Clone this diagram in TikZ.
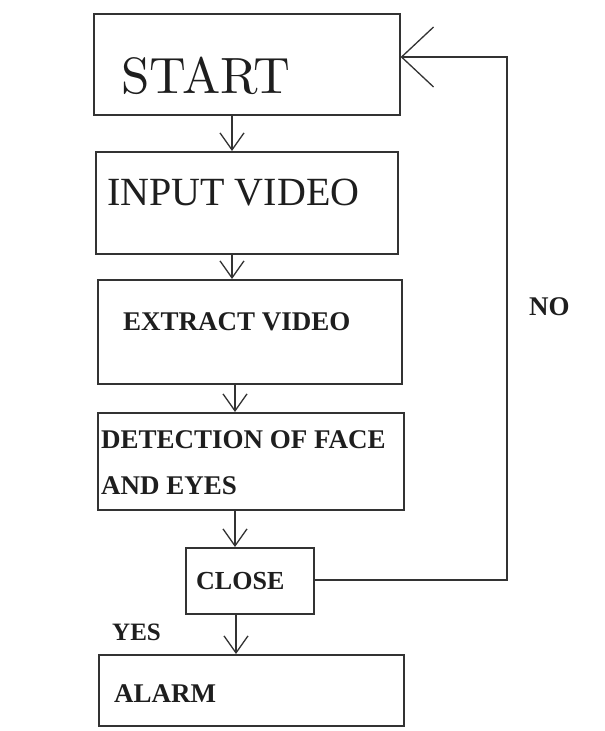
\documentclass[tikz,border=0pt]{standalone}
\usepackage{fontspec}
\newfontfamily\tnr{Liberation Serif}
\newfontfamily\lmten{lmroman10-regular.otf}
\usetikzlibrary{arrows.meta}
\definecolor{ln}{HTML}{333333}
\definecolor{tx}{HTML}{1E1E1E}
\begin{document}
\begin{tikzpicture}[x=1pt,y=-1pt,
  box/.style={draw=ln,line width=1.6pt,rectangle,inner sep=0pt,anchor=north west},
  lbl/.style={anchor=base west,inner sep=0pt,text=tx},
  bl/.style={lbl,font=\tnr\bfseries\fontsize{27}{30}\selectfont},
  arr/.style={draw=ln,line width=1.5pt,-{Straight Barb[length=17pt,width=24pt,line width=1.3pt]}},
  bigarr/.style={draw=ln,line width=1.5pt,-{Straight Barb[length=32pt,width=60pt,line width=1.3pt]}}]
\useasboundingbox (0,0) rectangle (605,731);
\fill[white] (0,0) rectangle (605,731);
% boxes
\node[box,minimum width=306pt,minimum height=101pt] (start) at (93,13) {};
\node[box,minimum width=302pt,minimum height=102pt] (input) at (95,151) {};
\node[box,minimum width=304pt,minimum height=104pt] (extract) at (97,279) {};
\node[box,minimum width=306pt,minimum height=97pt] (detect) at (97,412) {};
\node[box,minimum width=128pt,minimum height=66pt] (close) at (185,547) {};
\node[box,minimum width=305pt,minimum height=71pt] (alarm) at (98,654) {};
% texts
\node[lbl,font=\lmten\fontsize{51}{52}\selectfont] (tstart) at (121,93) {START};
\node[lbl,font=\tnr\fontsize{40}{44}\selectfont] (tinput) at (107,205) {INPUT VIDEO};
\node[bl] (textract) at (123,330) {EXTRACT VIDEO};
\node[bl] (tdet1) at (101,448) {DETECTION OF FACE};
\node[bl] (tdet2) at (101,494) {AND EYES};
\node[bl,font=\tnr\bfseries\fontsize{26}{28}\selectfont] (tclose) at (196,589) {CLOSE};
\node[bl,font=\tnr\bfseries\fontsize{25}{28}\selectfont] (tyes) at (112,640) {YES};
\node[bl] (talarm) at (114,702) {ALARM};
\node[bl,font=\tnr\bfseries\fontsize{27}{28}\selectfont] (tno) at (529,315) {NO};
% arrow columns
\coordinate (c1) at (232,0);
\coordinate (c2) at (232,0);
\coordinate (c3) at (235,0);
\coordinate (c4) at (235,0);
\coordinate (c5) at (236,0);
\coordinate (rx) at (507,0);
\draw[arr] (start.south -| c1) -- (input.north -| c1);
\draw[arr] (input.south -| c2) -- (extract.north -| c2);
\draw[arr] (extract.south -| c3) -- (detect.north -| c3);
\draw[arr] (detect.south -| c4) -- (close.north -| c4);
\draw[arr] (close.south -| c5) -- (alarm.north -| c5);
% feedback
\coordinate (fb) at (400,57);
\draw[bigarr] (close.east |- 0,580) -- (rx |- 0,580) -- (rx |- fb) -- (start.east |- fb);
\end{tikzpicture}
\end{document}
